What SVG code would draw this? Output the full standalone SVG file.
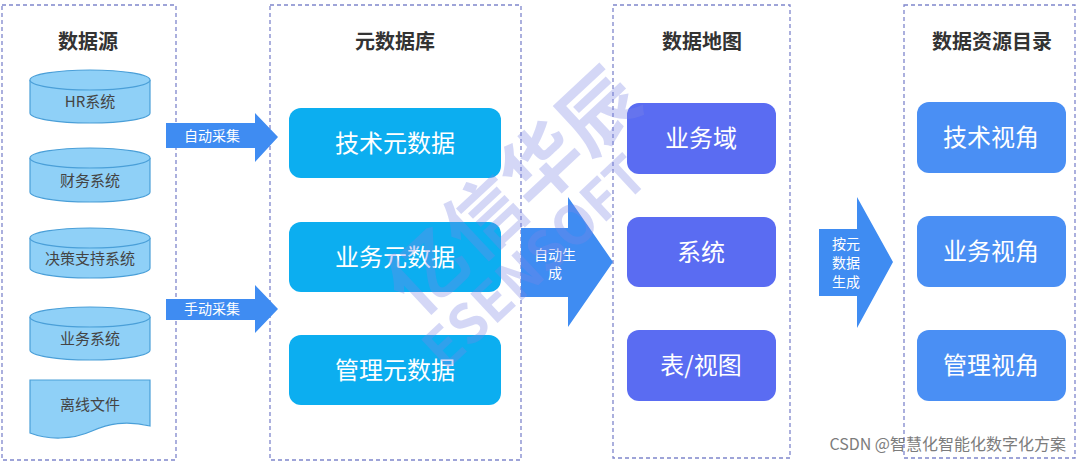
<svg xmlns="http://www.w3.org/2000/svg" width="1080" height="463" viewBox="0 0 1080 463">
<style>
.panel{fill:#fff;stroke:#7f86cc;stroke-width:1.3;stroke-dasharray:4 3}
.title{font-family:"Noto Sans CJK SC",sans-serif;font-size:20px;font-weight:bold;fill:#333;text-anchor:middle}
.cyl{fill:#8fd0f7;stroke:#4a9fd8;stroke-width:1.2}
.ctext{font-family:"Noto Sans CJK SC",sans-serif;font-size:15px;fill:#444;text-anchor:middle}
.arrow{fill:#3f8cf2}
.atext{font-family:"Noto Sans CJK SC",sans-serif;font-size:14px;fill:#fff;text-anchor:middle}
.btext{font-family:"Noto Sans CJK SC",sans-serif;font-size:24px;fill:#fff;text-anchor:middle}
.b1{fill:#0caef0}
.b2{fill:#5a6cf2}
.b3{fill:#4a8ff4}
.wm{font-family:"Noto Sans CJK SC",sans-serif;font-weight:bold;fill:#7c86e6;opacity:0.32}
</style>
<rect width="1080" height="463" fill="#fff"/>

<g id="panel-source">
<rect class="panel" x="2" y="5" width="174" height="455"/>
<text class="title" x="88" y="49">数据源</text>
</g>
<g id="panel-meta">
<rect class="panel" x="270" y="5" width="251" height="455"/>
<text class="title" x="395" y="49">元数据库</text>
</g>
<g id="panel-map">
<rect class="panel" x="613" y="5" width="177" height="453"/>
<text class="title" x="702" y="49">数据地图</text>
</g>
<g id="panel-catalog">
<rect class="panel" x="904" y="5" width="171" height="453"/>
<text class="title" x="992" y="49">数据资源目录</text>
</g>

<g id="hr">
<path class="cyl" d="M30,80 A60,10 0 0 1 150,80 V113 A60,10 0 0 1 30,113 Z"/>
<path class="cyl" d="M30,80 A60,10 0 0 0 150,80" fill="none"/>
<text class="ctext" x="90" y="107">HR系统</text>
</g>
<g id="finance">
<path class="cyl" d="M30,158 A60,10 0 0 1 150,158 V192 A60,10 0 0 1 30,192 Z"/>
<path class="cyl" d="M30,158 A60,10 0 0 0 150,158" fill="none"/>
<text class="ctext" x="90" y="186">财务系统</text>
</g>
<g id="dss">
<path class="cyl" d="M30,238 A60,10 0 0 1 150,238 V268 A60,10 0 0 1 30,268 Z"/>
<path class="cyl" d="M30,238 A60,10 0 0 0 150,238" fill="none"/>
<text class="ctext" x="90" y="264">决策支持系统</text>
</g>
<g id="biz">
<path class="cyl" d="M30,317 A60,10 0 0 1 150,317 V350 A60,10 0 0 1 30,350 Z"/>
<path class="cyl" d="M30,317 A60,10 0 0 0 150,317" fill="none"/>
<text class="ctext" x="90" y="344">业务系统</text>
</g>
<g id="offline">
<path class="cyl" d="M30,380 H150 V426 C125,420 108,424 92,431 C72,440 48,440 30,433 Z"/>
<text class="ctext" x="90" y="410">离线文件</text>
</g>

<g id="meta-tech"><rect class="b1" x="289" y="108" width="212" height="70" rx="12"/><text class="btext" x="395" y="152">技术元数据</text></g>
<g id="meta-biz"><rect class="b1" x="289" y="222" width="212" height="70" rx="12"/><text class="btext" x="395" y="266">业务元数据</text></g>
<g id="meta-mgmt"><rect class="b1" x="289" y="335" width="212" height="70" rx="12"/><text class="btext" x="395" y="379">管理元数据</text></g>

<g id="map-domain"><rect class="b2" x="627" y="103" width="149" height="71" rx="12"/><text class="btext" x="701" y="147">业务域</text></g>
<g id="map-system"><rect class="b2" x="627" y="217" width="149" height="70" rx="12"/><text class="btext" x="701" y="261">系统</text></g>
<g id="map-table"><rect class="b2" x="627" y="330" width="149" height="71" rx="12"/><text class="btext" x="701" y="374">表/视图</text></g>

<g id="cat-tech"><rect class="b3" x="917" y="102" width="149" height="71" rx="12"/><text class="btext" x="991" y="146">技术视角</text></g>
<g id="cat-biz"><rect class="b3" x="917" y="216" width="149" height="71" rx="12"/><text class="btext" x="991" y="260">业务视角</text></g>
<g id="cat-mgmt"><rect class="b3" x="917" y="330" width="149" height="71" rx="12"/><text class="btext" x="991" y="374">管理视角</text></g>

<g id="connectors">
<path class="arrow" d="M166,123 H255 V113 L278,137 L255,162 V148 H166 Z"/>
<text class="atext" x="212" y="141">自动采集</text>
<path class="arrow" d="M166,299 H255 V285 L278,309 L255,333 V320 H166 Z"/>
<text class="atext" x="212" y="314">手动采集</text>
<path class="arrow" d="M521,228 H568 V197 L613,262 L568,327 V297 H521 Z"/>
<text class="atext" x="555" y="260">自动生</text>
<text class="atext" x="555" y="278">成</text>
<path class="arrow" d="M819,229 H857 V197 L893,262 L857,328 V296 H819 Z"/>
<text class="atext" x="846" y="249">按元</text>
<text class="atext" x="846" y="268">数据</text>
<text class="atext" x="846" y="287">生成</text>
</g>

<g id="watermark">
<text class="wm" font-size="78" transform="translate(418,318) rotate(-43)">亿信华辰</text>
<text class="wm" font-size="54" transform="translate(445,372) rotate(-43)">ESENSOFT</text>
</g>

<text x="1066" y="450" font-family="Noto Sans CJK SC,sans-serif" font-size="16" fill="#666" text-anchor="end" opacity="0.85">CSDN @智慧化智能化数字化方案</text>
</svg>
